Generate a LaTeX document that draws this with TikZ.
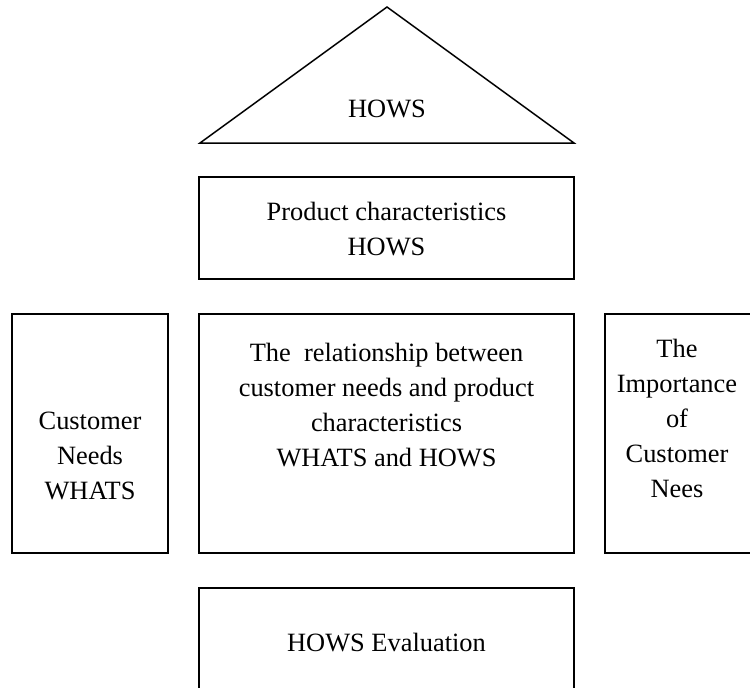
\documentclass[tikz,border=0pt]{standalone}
\usepackage{fontspec}
\setmainfont{Liberation Serif}
\begin{document}
\begin{tikzpicture}[x=1pt,y=-1pt,
  box/.style={draw=black,line width=1.5pt,rectangle,inner sep=0pt},
  txt/.style={inner sep=0pt,align=center,font=\fontsize{26.4}{35}\selectfont},
  roof/.style={draw=black,line width=1.5pt,line join=miter}]
\useasboundingbox (0,0) rectangle (750,688);
% roof triangle
\coordinate (apex) at (387,7);
\coordinate (bl) at (200,143);
\coordinate (br) at (574,143);
\draw[roof] (bl) -- (apex) -- (br) -- cycle;
\node[txt,anchor=base] (hows) at (387,117) {HOWS};
% boxes
\node[box,minimum width=375pt,minimum height=102pt] (prod) at (386.5,228) {};
\node[box,minimum width=156pt,minimum height=239pt] (cust) at (90,433.5) {};
\node[box,minimum width=375pt,minimum height=239pt] (rel) at (386.5,433.5) {};
\node[box,minimum width=160pt,minimum height=239pt] (imp) at (685,433.5) {};
\node[box,minimum width=375pt,minimum height=120pt] (eval) at (386.5,648) {};
% texts (base = baseline of last line)
\node[txt,anchor=base] (prodt) at (386.5,255) {Product characteristics\\HOWS};
\node[txt,anchor=base] (custt) at (90,499) {Customer\\Needs\\WHATS};
\node[txt,anchor=base] (relt) at (386.5,466) {The\ \ relationship between\\customer needs and product\\characteristics\\WHATS and HOWS};
\node[txt,anchor=base] (impt) at (677,497) {The\\Importance\\of\\Customer\\Nees};
\node[txt,anchor=base] (evalt) at (386.5,651) {HOWS Evaluation};
\end{tikzpicture}
\end{document}
